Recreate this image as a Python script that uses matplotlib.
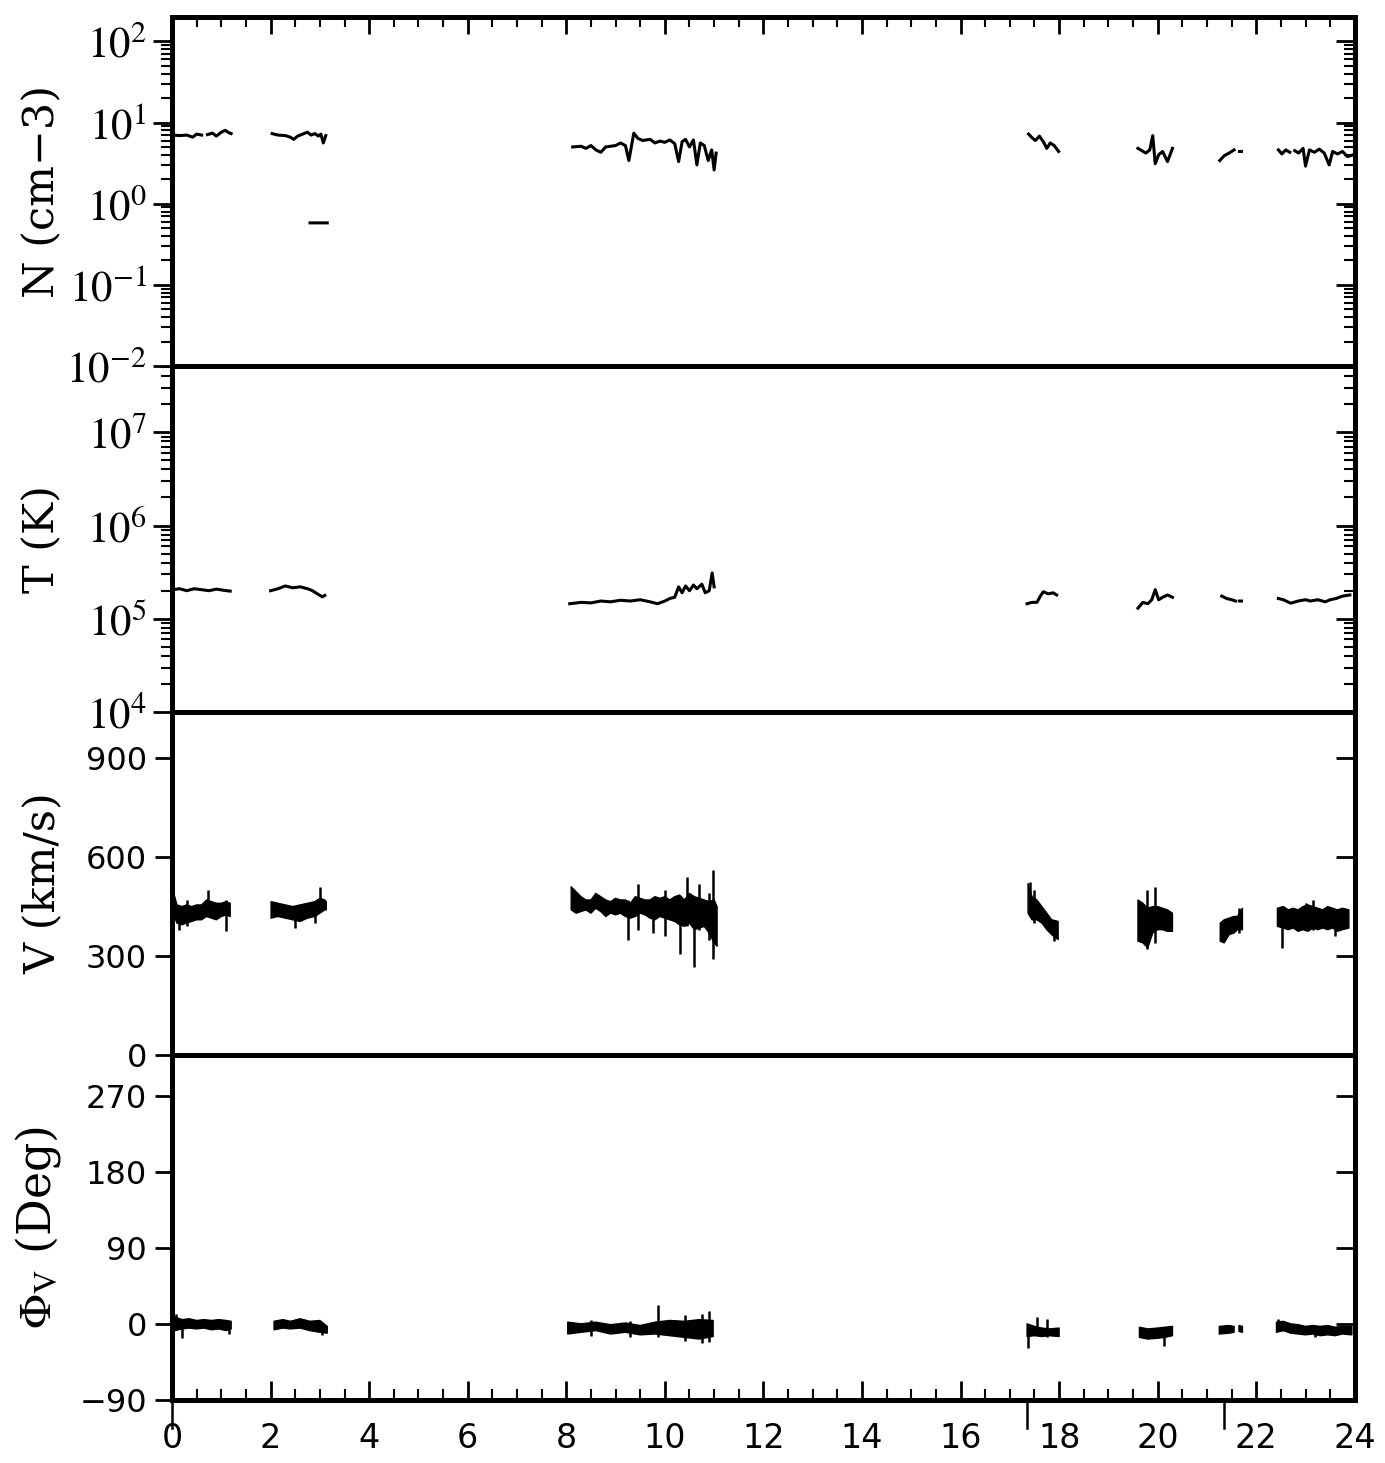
import numpy as np
import matplotlib
matplotlib.use('Agg')
import matplotlib.pyplot as plt
from matplotlib.ticker import LogLocator, FixedLocator, MultipleLocator, FuncFormatter, NullFormatter

nan = np.nan

# ----------------------------
# Data (hours UT), NaN = data gap
# ----------------------------
t_n = [0.02, 0.15, 0.3, 0.42, 0.5, 0.6, nan, 0.72, 0.82, 0.9, 1.0, 1.08, 1.15, 1.2, nan,
       2.03, 2.15, 2.3, 2.4, 2.47, 2.55, 2.65, 2.75, 2.82, 2.9, 2.97, 3.02, 3.07, 3.12, nan,
       2.8, 3.15, nan,
       8.13, 8.3, 8.4, 8.5, 8.6, 8.7, 8.8, 9.0, 9.1, 9.2, 9.27, 9.37, 9.45, 9.55, 9.7, 9.8,
       9.9, 10.0, 10.1, 10.2, 10.28, 10.35, 10.42, 10.5, 10.58, 10.65, 10.72, 10.8, 10.88,
       10.95, 11.0, 11.04, nan,
       17.38, 17.45, 17.52, 17.6, 17.68, 17.75, 17.82, 17.9, 17.99, nan,
       19.6, 19.68, 19.76, 19.84, 19.9, 19.95, 20.02, 20.1, 20.2, 20.3, nan,
       21.26, 21.35, 21.45, 21.55, nan, 21.66, 21.7, nan,
       22.45, 22.52, 22.6, 22.68, nan,
       22.78, 22.86, 22.95, 23.0, 23.08, 23.18, 23.28, 23.38, 23.48, 23.55, 23.65, 23.75,
       23.85, 23.97]
n_vals = [7.0, 6.9, 7.0, 6.6, 7.2, 7.0, nan, 7.1, 7.4, 6.8, 7.6, 8.0, 7.5, 7.3, nan,
          7.3, 7.0, 6.9, 6.6, 6.2, 6.8, 7.2, 7.6, 7.0, 7.3, 6.8, 7.2, 5.6, 6.9, nan,
          0.58, 0.58, nan,
          5.0, 5.1, 4.8, 5.2, 4.6, 4.3, 5.0, 5.2, 5.6, 5.2, 3.4, 7.4, 6.4, 6.0, 6.2, 5.6,
          5.9, 5.7, 6.1, 5.5, 3.3, 5.8, 6.2, 5.0, 6.1, 3.0, 5.6, 5.2, 3.4,
          4.6, 2.6, 4.2, nan,
          7.2, 6.5, 6.0, 6.8, 5.8, 4.8, 5.6, 5.2, 4.4, nan,
          4.8, 4.5, 4.2, 4.6, 6.9, 3.1, 4.0, 4.4, 3.3, 4.8, nan,
          3.4, 3.9, 4.2, 4.6, nan, 4.4, 4.4, nan,
          4.6, 4.1, 4.6, 4.3, nan,
          4.5, 4.2, 4.8, 2.9, 4.6, 4.3, 4.7, 4.2, 3.0, 4.4, 4.1, 4.4,
          3.8, 4.0]

t_t = [0.02, 0.15, 0.3, 0.45, 0.6, 0.75, 0.9, 1.05, 1.18, nan,
       2.0, 2.15, 2.3, 2.45, 2.6, 2.75, 2.85, 2.95, 3.05, 3.1, nan,
       8.07, 8.3, 8.5, 8.7, 8.9, 9.1, 9.3, 9.5, 9.7, 9.85, 10.0, 10.1, 10.2, 10.28, 10.35,
       10.42, 10.5, 10.58, 10.65, 10.75, 10.82, 10.9, 10.96, 11.0, nan,
       17.35, 17.45, 17.55, 17.62, 17.68, 17.78, 17.88, 17.95, nan,
       19.6, 19.7, 19.8, 19.88, 19.95, 20.02, 20.1, 20.2, 20.3, nan,
       21.3, 21.4, 21.5, 21.58, nan, 21.66, 21.7, nan,
       22.45, 22.55, 22.7, 22.85, 23.0, 23.1, 23.25, 23.4, 23.5, 23.62, 23.75, 23.9]
t_vals = [2.05e5, 2.1e5, 2.0e5, 2.1e5, 2.05e5, 2.0e5, 2.08e5, 2.02e5, 1.98e5, nan,
          2.0e5, 2.1e5, 2.25e5, 2.15e5, 2.2e5, 2.1e5, 2.0e5, 1.85e5, 1.72e5, 1.78e5, nan,
          1.45e5, 1.5e5, 1.48e5, 1.55e5, 1.52e5, 1.58e5, 1.55e5, 1.6e5, 1.52e5, 1.45e5,
          1.55e5, 1.65e5, 1.7e5, 2.2e5, 1.9e5, 2.25e5, 2.0e5, 2.3e5, 2.1e5, 2.35e5, 1.9e5,
          2.0e5, 3.1e5, 2.2e5, nan,
          1.45e5, 1.5e5, 1.5e5, 1.75e5, 1.95e5, 1.85e5, 1.9e5, 1.8e5, nan,
          1.3e5, 1.5e5, 1.45e5, 1.6e5, 2.05e5, 1.6e5, 1.7e5, 1.8e5, 1.7e5, nan,
          1.75e5, 1.65e5, 1.6e5, 1.55e5, nan, 1.55e5, 1.55e5, nan,
          1.65e5, 1.6e5, 1.47e5, 1.55e5, 1.6e5, 1.55e5, 1.6e5, 1.52e5, 1.6e5, 1.65e5,
          1.75e5, 1.8e5]

# speed: envelope of the noisy trace (low / high) + single spikes
t_v = [0.02, 0.1, 0.2, 0.3, 0.4, 0.5, 0.6, 0.7, 0.8, 0.9, 1.0, 1.1, 1.18, nan,
       2.01, 2.15, 2.3, 2.45, 2.6, 2.75, 2.9, 3.0, 3.1, 3.13, nan,
       8.1, 8.2, 8.3, 8.4, 8.5, 8.6, 8.7, 8.8, 8.9, 9.0, 9.1, 9.2, 9.3, 9.4, 9.5, 9.6, 9.7,
       9.8, 9.9, 10.0, 10.1, 10.2, 10.3, 10.4, 10.5, 10.6, 10.7, 10.8, 10.9, 11.0, 11.06, nan,
       17.37, 17.45, 17.55, 17.65, 17.75, 17.85, 17.98, nan,
       19.6, 19.7, 19.8, 19.9, 20.0, 20.1, 20.2, 20.3, nan,
       21.27, 21.35, 21.45, 21.55, 21.62, 21.72, nan,
       22.43, 22.55, 22.65, 22.75, 22.85, 22.95, 23.05, 23.15, 23.25, 23.35, 23.45, 23.55,
       23.65, 23.75, 23.88]
v_lo = [430, 400, 395, 400, 405, 410, 410, 420, 415, 410, 420, 425, 420, nan,
        415, 420, 415, 410, 405, 415, 420, 430, 440, 440, nan,
        440, 430, 435, 440, 430, 445, 435, 420, 430, 425, 430, 420, 415, 420, 430, 425, 415,
        410, 420, 415, 410, 405, 395, 390, 400, 380, 385, 390, 370, 340, 330, nan,
        430, 410, 410, 400, 380, 365, 350, nan,
        345, 340, 325, 370, 380, 380, 375, 375, nan,
        345, 340, 365, 370, 380, 380, nan,
        390, 385, 380, 385, 375, 380, 375, 385, 380, 385, 380, 385,
        375, 380, 385]
v_hi = [500, 455, 450, 455, 450, 455, 455, 470, 465, 460, 460, 465, 460, nan,
        465, 460, 455, 450, 455, 460, 465, 475, 470, 465, nan,
        510, 495, 480, 470, 470, 490, 480, 470, 465, 475, 470, 470, 460, 480, 475, 470, 470,
        480, 475, 480, 470, 480, 485, 470, 490, 480, 475, 470, 465, 470, 450, nan,
        520, 480, 470, 450, 430, 410, 405, nan,
        470, 460, 445, 450, 450, 445, 440, 430, nan,
        400, 410, 415, 420, 420, 445, nan,
        445, 450, 440, 445, 440, 450, 455, 450, 445, 440, 450, 445,
        440, 445, 440]
v_spike_t = [0.15, 0.3, 0.73, 1.1, 2.5, 2.9, 3.0, 9.25, 9.45, 9.75, 10.0, 10.3, 10.45,
             10.6, 10.7, 10.9, 10.98, 17.4, 17.5, 17.9, 19.78, 19.95, 21.65, 22.52, 23.0,
             23.15, 23.6]
v_spike_lo = [380, 390, 420, 375, 385, 400, 440, 350, 380, 370, 360, 305, 390,
              268, 380, 350, 290, 420, 400, 345, 320, 340, 370, 323, 380,
              380, 360]
v_spike_hi = [455, 470, 500, 470, 450, 455, 510, 470, 520, 460, 500, 480, 540,
              470, 520, 490, 560, 525, 500, 410, 500, 510, 445, 440, 460,
              470, 440]

# flow azimuth
t_p = [0.06, 0.2, 0.35, 0.5, 0.65, 0.8, 0.95, 1.1, 1.2, nan,
       2.07, 2.25, 2.4, 2.6, 2.8, 3.0, 3.15, nan,
       8.03, 8.3, 8.6, 8.9, 9.2, 9.5, 9.8, 10.1, 10.4, 10.7, 10.98, nan,
       17.35, 17.5, 17.65, 17.8, 18.0, nan,
       19.63, 19.8, 20.0, 20.15, 20.3, nan,
       21.25, 21.45, 21.55, nan, 21.65, 21.72, nan,
       22.41, 22.55, 22.7, 22.85, 23.0, 23.15, 23.3, 23.45, 23.6, 23.75, 23.94]
p_lo = [-8, -6, -5, -6, -5, -7, -6, -8, -6, nan,
        -7, -5, -6, -5, -8, -10, -11, nan,
        -12, -10, -8, -12, -10, -13, -12, -14, -16, -18, -15, nan,
        -15, -14, -15, -14, -15, nan,
        -16, -18, -17, -16, -14, nan,
        -12, -11, -10, nan, -9, -10, nan,
        -10, -8, -11, -12, -13, -12, -14, -13, -14, -12, -13]
p_hi = [8, 5, 6, 4, 5, 4, 5, 4, 3, nan,
        3, 5, 3, 6, 3, 4, -3, nan,
        2, 0, 2, -1, 1, -2, 2, 4, 3, 5, 4, nan,
        0, -3, -5, -6, -5, nan,
        -4, -6, -5, -4, -3, nan,
        -3, -2, -3, nan, -2, -3, nan,
        2, 3, 0, -1, -3, -2, -3, -2, -4, -3, -3]
p_spike_t = [0.08, 0.2, 1.15, 3.05, 8.5, 9.3, 9.86, 10.4, 10.75, 10.9,
             17.37, 17.55, 17.75, 20.12, 22.45, 23.2]
p_spike_lo = [-5, -17, -12, -13, -14, -16, -15, -20, -23, -22,
              -28, -10, -16, -26, -8, -16]
p_spike_hi = [12, 0, 2, 2, 5, 3, 22, 10, 12, 15,
              0, 8, 6, -5, 6, -2]

# long marks below the time axis
event_marks = [0.0, 17.35, 21.35]

x_ticks = [0, 2, 4, 6, 8, 10, 12, 14, 16, 18, 20, 22, 24]
v_ticks = [0, 300, 600, 900]
p_ticks = [-90, 0, 90, 180, 270]

# ----------------------------
# Figure layout
# ----------------------------
plt.rcParams['mathtext.fontset'] = 'stix'
fig = plt.figure(figsize=(13.85, 14.63), dpi=100)

left, width = 0.1242, 0.854
ax_n = fig.add_axes([left, 0.7498, width, 0.2386])
ax_t = fig.add_axes([left, 0.5133, width, 0.2365], sharex=ax_n)
ax_v = fig.add_axes([left, 0.2789, width, 0.2344], sharex=ax_n)
ax_p = fig.add_axes([left, 0.0431, width, 0.2358], sharex=ax_n)
axes = [ax_n, ax_t, ax_v, ax_p]

lw_frame = 3.6
serif = 'DejaVu Serif'
sans = 'DejaVu Sans'


def log_fmt(y, pos):
    return r'$10^{%d}$' % int(round(np.log10(y)))


# ----------------------------
# Plot data
# ----------------------------
ax_n.plot(t_n, n_vals, color='k', lw=2.2)
ax_t.plot(t_t, t_vals, color='k', lw=2.2)
ax_v.fill_between(t_v, v_lo, v_hi, color='k', lw=1.0)
ax_v.vlines(v_spike_t, v_spike_lo, v_spike_hi, color='k', lw=1.8)
ax_p.fill_between(t_p, p_lo, p_hi, color='k', lw=1.0)
ax_p.vlines(p_spike_t, p_spike_lo, p_spike_hi, color='k', lw=1.8)

# ----------------------------
# Axes styling
# ----------------------------
ax_n.set_yscale('log')
ax_n.set_ylim(1e-2, 10 ** 2.3)
ax_t.set_yscale('log')
ax_t.set_ylim(1e4, 10 ** 7.71)
ax_v.set_ylim(0, 1040)
ax_p.set_ylim(-90, 318)
ax_p.set_xlim(0, 24)

for ax in [ax_n, ax_t]:
    ax.yaxis.set_major_locator(LogLocator(base=10, numticks=20))
    ax.yaxis.set_minor_locator(LogLocator(base=10, subs=np.arange(2, 10), numticks=20))
    ax.yaxis.set_major_formatter(FuncFormatter(log_fmt))
    ax.yaxis.set_minor_formatter(NullFormatter())
    ax.tick_params(axis='y', which='major', direction='out', length=14, width=2, labelsize=31, pad=4)
    ax.tick_params(axis='y', which='minor', direction='out', length=8, width=1.5)

ax_v.yaxis.set_major_locator(FixedLocator(v_ticks))
ax_p.yaxis.set_major_locator(FixedLocator(p_ticks))
ax_p.yaxis.set_major_formatter(FuncFormatter(lambda y, pos: '\u2212%d' % -y if y < 0 else '%d' % y))
for ax in [ax_v, ax_p]:
    ax.tick_params(axis='y', which='major', direction='out', length=12, width=2, labelsize=23, pad=6)
    for lab in ax.get_yticklabels():
        lab.set_family(sans)

for ax in axes:
    for sp in ax.spines.values():
        sp.set_linewidth(lw_frame)
    ax.tick_params(axis='x', which='both', bottom=False, top=False, labelbottom=False)
    # inward ticks on the right-hand side
    tw = ax.twinx()
    tw.set_yscale(ax.get_yscale())
    tw.set_ylim(ax.get_ylim())
    tw.yaxis.set_major_locator(ax.yaxis.get_major_locator())
    if ax.get_yscale() == 'log':
        tw.yaxis.set_minor_locator(LogLocator(base=10, subs=np.arange(2, 10), numticks=20))
    tw.tick_params(axis='y', which='major', direction='in', length=14, width=2, labelright=False)
    tw.tick_params(axis='y', which='minor', direction='in', length=8, width=1.5, labelright=False)
    for sp in tw.spines.values():
        sp.set_visible(False)

ax_p.xaxis.set_major_locator(FixedLocator(x_ticks))
ax_p.xaxis.set_minor_locator(MultipleLocator(0.5))
ax_n.tick_params(axis='x', which='both', direction='in', top=True, bottom=False, labeltop=False)
ax_n.tick_params(axis='x', which='major', length=12, width=2)
ax_n.tick_params(axis='x', which='minor', length=7, width=1.5)
ax_p.tick_params(axis='x', which='both', direction='in', bottom=True, top=False, labelbottom=True)
ax_p.tick_params(axis='x', which='major', length=14, width=2, labelsize=24, pad=16)
ax_p.tick_params(axis='x', which='minor', length=8, width=1.5)
for lab in ax_p.get_xticklabels():
    lab.set_family(sans)

for xm in event_marks:
    ax_p.plot([xm, xm], [0, -0.08], color='k', lw=1.8, transform=ax_p.get_xaxis_transform(),
              clip_on=False)

# panel labels
ax_n.set_ylabel('N (cm\u22123)', fontsize=31, family=serif)
ax_t.set_ylabel('T (K)', fontsize=31, family=serif)
ax_v.set_ylabel('V (km/s)', fontsize=31, family=serif)
ax_p.set_ylabel(r'$\Phi_{\rm V}$ (Deg)', fontsize=33, family=serif)
for ax in axes:
    ax.yaxis.set_label_coords(-0.092, 0.5)

fig.savefig('out.png', dpi=100)
print("Saved: out.png")
